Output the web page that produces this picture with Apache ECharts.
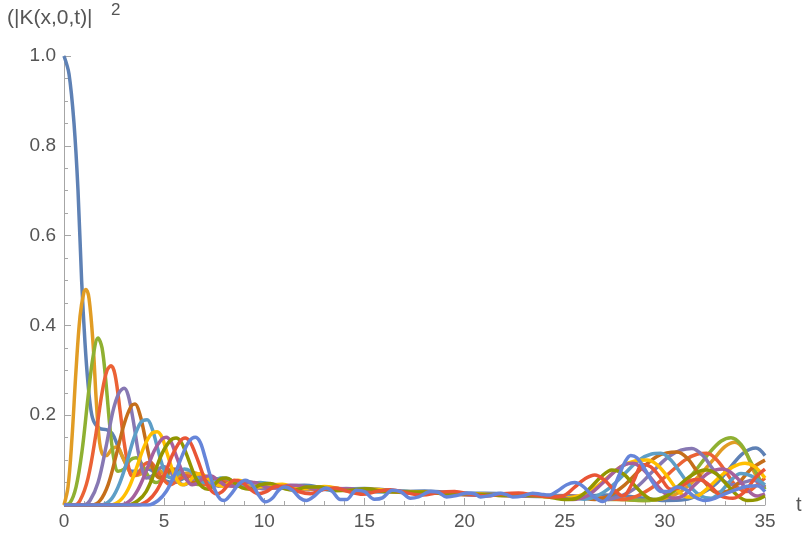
<!DOCTYPE html>
<html>
<head>
<meta charset="utf-8">
<script src="https://cdn.jsdelivr.net/npm/echarts@6/dist/echarts.min.js"></script>
<style>
html,body{margin:0;padding:0;background:#fff;}
#chart{width:807px;height:544px;}
</style>
</head>
<body>
<div id="chart"></div>
<script>
// x-axis ticks and y-axis ticks
const xTicks = [0, 5, 10, 15, 20, 25, 30, 35];
const yTicks = [0, 0.2, 0.4, 0.6, 0.8, 1.0];
const siteNames = ['x=0','x=1','x=2','x=3','x=4','x=5','x=6','x=7','x=8','x=9','x=10','x=11'];

// |K(x,0,t)|^2 for each site, [t, value]
const x0 = [[0,1.0],[0.25,0.96],[0.5,0.85],[0.7,0.70],[0.88,0.50],[1.05,0.36],[1.2,0.27],[1.35,0.21],[1.5,0.185],[1.8,0.17],[2.1,0.168],[2.4,0.16],[2.7,0.13],[3.0,0.1],[3.4,0.075],[3.8,0.075],[4.2,0.08],[4.6,0.07],[5.0,0.055],[5.5,0.05],[6.0,0.06],[6.5,0.065],[7.0,0.058],[7.5,0.048],[8.0,0.045],[8.6,0.05],[9.2,0.052],[9.8,0.045],[10.5,0.04],[11.2,0.043],[12,0.044],[13,0.038],[14,0.035],[15,0.037],[16,0.034],[17,0.03],[18,0.031],[19,0.029],[20,0.026],[21,0.026],[22,0.025],[23,0.023],[24,0.02],[25,0.018],[26,0.02],[27,0.022],[28,0.02],[29,0.015],[30,0.01],[31,0.012],[31.8,0.025],[32.5,0.045],[33.2,0.08],[33.9,0.115],[34.55,0.127],[35,0.11]];
const x1 = [[0,0],[0.2,0.04],[0.4,0.15],[0.6,0.3],[0.8,0.42],[1.0,0.475],[1.1,0.48],[1.25,0.46],[1.45,0.36],[1.6,0.24],[1.75,0.15],[1.9,0.115],[2.1,0.11],[2.4,0.125],[2.65,0.13],[2.9,0.11],[3.2,0.08],[3.5,0.065],[3.9,0.07],[4.3,0.085],[4.7,0.08],[5.1,0.065],[5.5,0.06],[6.0,0.07],[6.5,0.072],[7.0,0.06],[7.6,0.05],[8.2,0.055],[8.8,0.05],[9.5,0.042],[10.2,0.045],[11,0.043],[12,0.038],[13,0.04],[14,0.035],[15,0.034],[16,0.032],[17,0.03],[18,0.029],[19,0.027],[20,0.025],[21,0.024],[22,0.023],[23,0.022],[24,0.02],[25,0.02],[26,0.018],[27,0.015],[28,0.012],[29,0.01],[30,0.015],[30.8,0.03],[31.6,0.06],[32.4,0.1],[33.0,0.13],[33.5,0.14],[34.0,0.12],[34.5,0.07],[35,0.04]];
const x2 = [[0,0],[0.3,0.005],[0.6,0.04],[0.9,0.12],[1.2,0.24],[1.45,0.33],[1.7,0.372],[1.9,0.35],[2.1,0.27],[2.3,0.17],[2.5,0.1],[2.7,0.075],[3.0,0.08],[3.3,0.1],[3.6,0.105],[3.9,0.09],[4.2,0.065],[4.6,0.05],[5.0,0.06],[5.4,0.075],[5.8,0.07],[6.3,0.05],[6.8,0.045],[7.3,0.055],[7.8,0.058],[8.3,0.048],[9,0.04],[9.7,0.047],[10.4,0.045],[11.2,0.036],[12,0.04],[13,0.038],[14,0.033],[15,0.035],[16,0.03],[17,0.03],[18,0.028],[19,0.026],[20,0.025],[21,0.023],[22,0.023],[23,0.021],[24,0.02],[25,0.02],[26,0.016],[27,0.013],[28,0.012],[29,0.01],[29.8,0.015],[30.6,0.035],[31.4,0.07],[32.2,0.115],[32.8,0.142],[33.3,0.15],[33.8,0.135],[34.3,0.095],[34.7,0.06],[35,0.035]];
const x3 = [[0,0],[0.5,0],[0.8,0.01],[1.2,0.06],[1.6,0.16],[1.9,0.25],[2.15,0.3],[2.35,0.31],[2.55,0.29],[2.8,0.21],[3.0,0.14],[3.2,0.09],[3.4,0.065],[3.7,0.07],[4.0,0.09],[4.3,0.095],[4.6,0.08],[4.9,0.06],[5.3,0.045],[5.7,0.055],[6.1,0.065],[6.5,0.06],[7.0,0.045],[7.5,0.045],[8.0,0.055],[8.5,0.052],[9.1,0.04],[9.7,0.038],[10.4,0.046],[11.1,0.04],[11.8,0.034],[12.6,0.04],[13.4,0.037],[14.2,0.031],[15,0.034],[16,0.031],[17,0.028],[18,0.029],[19,0.025],[20,0.024],[21,0.022],[22,0.022],[23,0.02],[24,0.021],[25,0.02],[26,0.018],[27,0.015],[27.8,0.012],[28.6,0.02],[29.4,0.04],[30.2,0.07],[31.0,0.1],[31.6,0.113],[32.1,0.115],[32.6,0.1],[33.1,0.07],[33.6,0.04],[34.1,0.03],[34.6,0.045],[35,0.06]];
const x4 = [[0,0],[1.0,0],[1.3,0.01],[1.7,0.05],[2.1,0.13],[2.45,0.21],[2.75,0.25],[3.0,0.26],[3.2,0.245],[3.45,0.19],[3.7,0.12],[3.9,0.08],[4.1,0.06],[4.4,0.065],[4.7,0.08],[5.0,0.085],[5.3,0.075],[5.6,0.055],[6.0,0.045],[6.4,0.055],[6.8,0.062],[7.2,0.055],[7.7,0.042],[8.2,0.045],[8.7,0.052],[9.3,0.045],[10,0.036],[10.7,0.042],[11.4,0.042],[12.2,0.034],[13,0.036],[13.8,0.036],[14.6,0.03],[15.5,0.033],[16.5,0.03],[17.5,0.027],[18.5,0.028],[19.5,0.024],[20.5,0.024],[21.5,0.022],[22.5,0.021],[23.5,0.02],[24.5,0.021],[25.5,0.02],[26.3,0.016],[27.0,0.012],[27.8,0.02],[28.6,0.04],[29.4,0.075],[30.2,0.108],[30.8,0.122],[31.35,0.126],[31.9,0.11],[32.4,0.08],[32.9,0.055],[33.4,0.045],[33.9,0.05],[34.4,0.055],[35,0.04]];
const x5 = [[0,0],[1.4,0],[1.8,0.01],[2.2,0.045],[2.6,0.11],[3.0,0.18],[3.35,0.22],[3.55,0.225],[3.8,0.2],[4.05,0.15],[4.3,0.1],[4.55,0.07],[4.8,0.06],[5.1,0.068],[5.4,0.08],[5.7,0.078],[6.0,0.065],[6.4,0.05],[6.8,0.05],[7.2,0.058],[7.6,0.058],[8.1,0.046],[8.6,0.042],[9.1,0.05],[9.7,0.048],[10.4,0.038],[11.1,0.042],[11.8,0.041],[12.6,0.034],[13.4,0.037],[14.2,0.034],[15,0.03],[16,0.032],[17,0.028],[18,0.027],[19,0.026],[20,0.023],[21,0.023],[22,0.021],[23,0.02],[24,0.02],[25,0.02],[25.8,0.016],[26.5,0.012],[27.2,0.02],[28.0,0.045],[28.8,0.08],[29.6,0.108],[30.1,0.116],[30.6,0.118],[31.1,0.105],[31.6,0.075],[32.1,0.045],[32.6,0.028],[33.1,0.03],[33.7,0.05],[34.3,0.08],[35,0.1]];
const x6 = [[0,0],[1.8,0],[2.3,0.01],[2.7,0.04],[3.1,0.09],[3.5,0.15],[3.85,0.185],[4.15,0.19],[4.4,0.17],[4.65,0.13],[4.9,0.09],[5.15,0.065],[5.4,0.06],[5.7,0.07],[6.0,0.08],[6.3,0.076],[6.6,0.062],[7.0,0.05],[7.4,0.05],[7.8,0.06],[8.2,0.058],[8.7,0.046],[9.2,0.044],[9.8,0.05],[10.4,0.046],[11.1,0.037],[11.8,0.042],[12.5,0.04],[13.3,0.033],[14.1,0.037],[14.9,0.034],[15.8,0.029],[16.8,0.031],[17.8,0.027],[18.8,0.026],[19.8,0.025],[20.8,0.022],[21.8,0.022],[22.8,0.02],[23.8,0.019],[24.6,0.02],[25.3,0.018],[26.0,0.013],[26.6,0.02],[27.3,0.04],[28.0,0.07],[28.7,0.1],[29.3,0.113],[29.8,0.115],[30.3,0.1],[30.8,0.07],[31.3,0.04],[31.8,0.02],[32.3,0.015],[32.8,0.03],[33.3,0.055],[33.8,0.07],[34.3,0.065],[35,0.045]];
const x7 = [[0,0],[2.3,0],[2.8,0.01],[3.2,0.035],[3.6,0.08],[4.0,0.13],[4.35,0.158],[4.65,0.163],[4.9,0.15],[5.15,0.115],[5.4,0.08],[5.65,0.055],[5.9,0.045],[6.2,0.05],[6.5,0.065],[6.8,0.07],[7.1,0.063],[7.5,0.048],[7.9,0.042],[8.3,0.05],[8.7,0.055],[9.2,0.048],[9.7,0.04],[10.3,0.044],[10.9,0.046],[11.6,0.038],[12.3,0.036],[13.0,0.041],[13.8,0.036],[14.6,0.032],[15.5,0.035],[16.5,0.03],[17.5,0.029],[18.5,0.027],[19.5,0.025],[20.5,0.025],[21.5,0.022],[22.5,0.022],[23.5,0.02],[24.3,0.018],[25.0,0.015],[25.7,0.02],[26.4,0.035],[27.1,0.06],[27.8,0.085],[28.5,0.098],[29.1,0.1],[29.6,0.09],[30.1,0.065],[30.6,0.035],[31.1,0.018],[31.6,0.02],[32.2,0.04],[32.8,0.065],[33.4,0.085],[34.0,0.093],[34.5,0.085],[35,0.06]];
const x8 = [[0,0],[2.8,0],[3.3,0.01],[3.7,0.035],[4.1,0.075],[4.5,0.12],[4.85,0.145],[5.1,0.151],[5.35,0.14],[5.6,0.11],[5.85,0.08],[6.1,0.058],[6.4,0.045],[6.7,0.05],[7.0,0.062],[7.3,0.065],[7.7,0.055],[8.1,0.043],[8.5,0.042],[9.0,0.05],[9.5,0.05],[10.1,0.04],[10.7,0.038],[11.3,0.044],[12.0,0.041],[12.7,0.034],[13.5,0.037],[14.3,0.036],[15.2,0.03],[16.2,0.032],[17.2,0.029],[18.2,0.026],[19.2,0.027],[20.2,0.023],[21.2,0.023],[22.2,0.021],[23.2,0.02],[24.0,0.02],[24.7,0.016],[25.4,0.012],[26.1,0.02],[26.8,0.045],[27.5,0.075],[28.0,0.09],[28.4,0.093],[28.9,0.08],[29.4,0.055],[29.9,0.03],[30.4,0.015],[30.9,0.02],[31.5,0.045],[32.2,0.072],[32.9,0.08],[33.5,0.065],[34.1,0.035],[34.6,0.02],[35,0.025]];
const x9 = [[0,0],[3.2,0],[3.7,0.01],[4.1,0.03],[4.5,0.07],[4.9,0.115],[5.3,0.143],[5.6,0.149],[5.85,0.14],[6.1,0.115],[6.35,0.085],[6.6,0.058],[6.9,0.04],[7.2,0.035],[7.5,0.045],[7.8,0.058],[8.1,0.06],[8.5,0.05],[8.9,0.038],[9.3,0.035],[9.8,0.045],[10.3,0.048],[10.9,0.038],[11.5,0.033],[12.1,0.04],[12.8,0.04],[13.5,0.032],[14.3,0.033],[15.1,0.036],[16.0,0.03],[17.0,0.029],[18.0,0.029],[19.0,0.025],[20.0,0.025],[21.0,0.023],[22.0,0.021],[23.0,0.021],[23.8,0.02],[24.4,0.016],[25.0,0.012],[25.6,0.015],[26.2,0.035],[26.8,0.062],[27.35,0.078],[27.9,0.07],[28.4,0.048],[28.9,0.025],[29.4,0.012],[29.9,0.015],[30.5,0.035],[31.2,0.062],[31.7,0.075],[32.1,0.078],[32.6,0.068],[33.1,0.045],[33.6,0.022],[34.1,0.01],[34.6,0.012],[35,0.02]];
const x10 = [[0,0],[3.7,0],[4.2,0.01],[4.6,0.03],[5.0,0.065],[5.4,0.11],[5.8,0.142],[6.05,0.149],[6.3,0.14],[6.55,0.115],[6.8,0.085],[7.05,0.055],[7.3,0.035],[7.6,0.025],[7.9,0.03],[8.2,0.045],[8.5,0.055],[8.9,0.05],[9.3,0.035],[9.7,0.025],[10.1,0.03],[10.6,0.042],[11.1,0.042],[11.7,0.03],[12.3,0.025],[12.9,0.034],[13.5,0.038],[14.2,0.03],[14.9,0.024],[15.6,0.03],[16.3,0.034],[17.1,0.027],[17.9,0.022],[18.7,0.028],[19.5,0.03],[20.3,0.024],[21.1,0.02],[21.9,0.025],[22.7,0.027],[23.5,0.022],[24.3,0.018],[24.9,0.02],[25.5,0.04],[26.0,0.058],[26.5,0.067],[27.0,0.055],[27.5,0.032],[27.9,0.02],[28.4,0.05],[28.9,0.09],[29.3,0.085],[29.8,0.06],[30.3,0.035],[30.8,0.04],[31.3,0.055],[31.7,0.057],[32.2,0.045],[32.8,0.02],[33.4,0.015],[34.0,0.03],[34.5,0.06],[35,0.08]];
const x11 = [[0,0],[4.2,0],[4.7,0.01],[5.1,0.03],[5.5,0.065],[5.9,0.11],[6.25,0.142],[6.55,0.151],[6.8,0.14],[7.05,0.105],[7.3,0.065],[7.55,0.032],[7.8,0.013],[8.0,0.01],[8.3,0.022],[8.7,0.045],[9.05,0.055],[9.4,0.045],[9.75,0.02],[10.05,0.007],[10.4,0.015],[10.7,0.032],[11.0,0.04],[11.4,0.033],[11.8,0.015],[12.1,0.01],[12.5,0.02],[12.8,0.032],[13.1,0.038],[13.4,0.03],[13.8,0.012],[14.1,0.012],[14.6,0.033],[15.0,0.03],[15.5,0.013],[15.9,0.016],[16.4,0.033],[16.8,0.03],[17.3,0.015],[17.7,0.018],[18.3,0.03],[18.7,0.028],[19.1,0.018],[19.6,0.021],[20.1,0.027],[20.5,0.025],[20.8,0.018],[21.3,0.021],[21.8,0.026],[22.1,0.023],[22.4,0.018],[22.9,0.02],[23.4,0.026],[23.8,0.024],[24.2,0.022],[24.7,0.033],[25.1,0.045],[25.5,0.05],[25.9,0.042],[26.4,0.02],[26.9,0.008],[27.3,0.025],[27.7,0.065],[28.0,0.095],[28.3,0.11],[28.6,0.105],[29.0,0.08],[29.4,0.05],[29.8,0.03],[30.2,0.03],[30.6,0.04],[31.0,0.035],[31.5,0.018],[32.0,0.01],[32.5,0.015],[33.0,0.025],[33.6,0.035],[34.1,0.042],[34.6,0.043],[35,0.03]];

const allSites = [x0, x1, x2, x3, x4, x5, x6, x7, x8, x9, x10, x11];
const palette = ['#5E81B5','#E19C24','#8FB032','#EB6235','#8778B3','#C56E1A','#5D9EC7','#FFBF00','#A5609D','#929600','#E95536','#6685D9'];

const chart = echarts.init(document.getElementById('chart'), null, {renderer: 'canvas'});
const txt = '#555555';
const axisCol = '#a6a6a6';
const font = 'Liberation Sans, Arial, sans-serif';

chart.setOption({
  animation: false,
  backgroundColor: '#ffffff',
  grid: {left: 64, right: 42, top: 56, bottom: 39, containLabel: false},
  xAxis: {
    type: 'value', min: xTicks[0], max: xTicks[xTicks.length - 1], interval: 5,
    name: 't', nameLocation: 'end', nameGap: 31,
    nameTextStyle: {color: txt, fontSize: 20, fontFamily: font, verticalAlign: 'middle', padding: [0, 0, 6, 0]},
    axisLine: {show: true, lineStyle: {color: axisCol, width: 1}},
    axisTick: {show: true, inside: true, length: 7, lineStyle: {color: axisCol}},
    minorTick: {show: true, splitNumber: 5, length: 4, lineStyle: {color: axisCol}},
    axisLabel: {color: txt, fontSize: 19, fontFamily: font, margin: 7},
    splitLine: {show: false}
  },
  yAxis: {
    type: 'value', min: yTicks[0], max: yTicks[yTicks.length - 1], interval: 0.2,
    axisLine: {show: true, lineStyle: {color: axisCol, width: 1}},
    axisTick: {show: true, inside: true, length: 7, lineStyle: {color: axisCol}},
    minorTick: {show: true, splitNumber: 4, length: 4, lineStyle: {color: axisCol}},
    axisLabel: {color: txt, fontSize: 19, fontFamily: font, margin: 8,
      formatter: v => (v === 0 ? '' : v.toFixed(1))},
    splitLine: {show: false}
  },
  graphic: [
    {type: 'text', left: 7, top: 8, style: {text: '(|K(x,0,t)|', fill: txt, font: '21px ' + font}},
    {type: 'text', left: 111, top: 2, style: {text: '2', fill: txt, font: '17px ' + font}}
  ],
  series: allSites.map((d, i) => ({
    name: siteNames[i],
    type: 'line',
    data: d,
    smooth: 0.35,
    showSymbol: false,
    clip: true,
    lineStyle: {color: palette[i], width: 3.5},
    itemStyle: {color: palette[i]}
  }))
});
</script>
</body>
</html>
